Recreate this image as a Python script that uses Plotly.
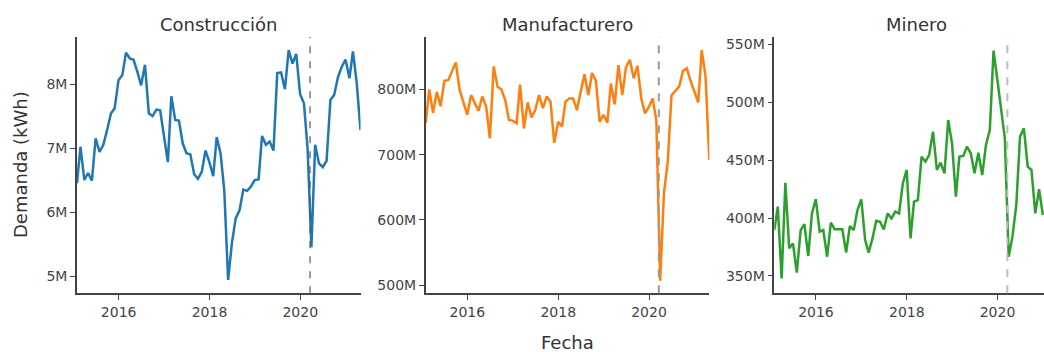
import pandas as pd
import plotly.graph_objects as go

# Monthly electricity demand by sector (kWh), month-end dates
fechas = pd.date_range("2015-02-01", periods=76, freq="MS") - pd.Timedelta(days=1)

construccion_m = [
    6.45, 7.02, 6.50, 6.61, 6.49, 7.15, 6.94, 7.05, 7.28, 7.54, 7.62, 8.06,
    8.14, 8.49, 8.40, 8.38, 8.19, 7.98, 8.30, 7.54, 7.50, 7.60, 7.59, 7.18,
    6.78, 7.81, 7.44, 7.43, 7.07, 6.92, 6.90, 6.59, 6.52, 6.63, 6.96, 6.78,
    6.56, 7.17, 6.92, 6.34, 4.94, 5.51, 5.90, 6.03, 6.35, 6.33, 6.40, 6.50,
    6.51, 7.19, 7.05, 7.10, 6.96, 8.17, 8.18, 7.92, 8.53, 8.32, 8.47, 7.84,
    7.70, 7.00, 5.45, 7.05, 6.76, 6.70, 6.80, 7.75, 7.83, 8.11, 8.27, 8.38,
    8.09, 8.51, 8.01, 7.28,
]

manufacturero_m = [
    748, 800, 764, 796, 774, 813, 814, 827, 841, 799, 780, 761,
    791, 780, 767, 789, 774, 725, 835, 804, 800, 784, 753, 752,
    748, 807, 740, 780, 757, 768, 791, 771, 789, 781, 718, 750,
    743, 781, 786, 786, 768, 796, 823, 791, 825, 813, 750, 761,
    749, 809, 777, 837, 791, 834, 845, 817, 836, 786, 763, 773,
    786, 752, 507, 641, 689, 791, 797, 804, 828, 832, 813, 798,
    780, 860, 819, 692,
]

minero_m = [
    389.6, 409.8, 347.9, 430.5, 373.8, 378.1, 352.8, 389.6, 394.8, 367.2, 404.0, 416.4,
    388.2, 389.6, 366.6, 396.0, 390.2, 390.2, 390.2, 370.1, 393.1, 389.6, 406.9, 416.1,
    381.0, 370.1, 382.4, 397.7, 396.8, 390.2, 404.0, 399.7, 405.5, 404.0, 429.9, 441.5,
    382.4, 414.1, 415.5, 453.0, 448.7, 454.4, 474.6, 441.5, 447.8, 438.6, 484.6, 464.5,
    418.4, 453.0, 453.6, 461.6, 455.9, 438.6, 456.4, 437.1, 463.1, 476.0, 544.5, 519.2,
    493.3, 468.8, 366.6, 383.9, 411.2, 470.3, 477.4, 444.3, 441.5, 404.0, 424.8, 402.6,
]

sectores = ["Construcción", "Manufacturero", "Minero"]
colores = ["#1f77b4", "#ff7f0e", "#2ca02c"]
fecha_evento = "2020-03-20"

series = [
    [v * 1e6 for v in construccion_m],
    [v * 1e6 for v in manufacturero_m],
    [v * 1e6 for v in minero_m],
]

W, H = 1044, 352
x_dom = [[77 / W, 360.5 / W], [425.7 / W, 709.3 / W], [774.3 / W, 1.0]]
y_dom = [(H - 293.3) / H, (H - 37) / H]
x_rng = [
    ["2015-01-31", "2021-04-30"],
    ["2015-01-31", "2021-04-30"],
    ["2015-01-31", "2021-01-09"],
]
y_rng = [[4.73e6, 8.735e6], [487.7e6, 880e6], [335e6, 556.3e6]]
y_dtick = [1e6, 100e6, 50e6]
dash_style = [("#555555", 1.2, "7px,8px"), ("#9a9a9a", 2, "8px,8px"), ("#bdbdbd", 2, "8px,8px")]

font_family = "DejaVu Sans"
fig = go.Figure()

for k in range(3):
    sfx = "" if k == 0 else str(k + 1)
    n = len(series[k])
    fig.add_trace(go.Scatter(
        x=fechas[:n], y=series[k], mode="lines",
        line=dict(color=colores[k], width=2.5),
        xaxis="x" + sfx, yaxis="y" + sfx, showlegend=False,
    ))
    axis_common = dict(
        showline=True, linecolor="#444", linewidth=1.5,
        ticks="outside", ticklen=5, tickcolor="#444", tickwidth=1,
        showgrid=False, zeroline=False,
        tickfont=dict(family=font_family, size=14, color="#444"),
    )
    fig.update_layout({
        "xaxis" + sfx: dict(
            domain=x_dom[k], range=x_rng[k], anchor="y" + sfx,
            type="date", tick0="2016-01-01", dtick="M24", tickformat="%Y",
            **axis_common,
        ),
        "yaxis" + sfx: dict(
            domain=y_dom, range=y_rng[k], anchor="x" + sfx,
            dtick=y_dtick[k], tickformat="~s",
            **axis_common,
        ),
    })
    color, width, dash = dash_style[k]
    fig.add_shape(
        type="line", xref="x" + sfx, yref="y" + sfx + " domain",
        x0=fecha_evento, x1=fecha_evento, y0=0, y1=1,
        line=dict(color=color, width=width, dash=dash), layer="above",
    )

# Panel titles
title_x = [218.5, 567.5, 916]
for k in range(3):
    fig.add_annotation(
        text=sectores[k], xref="paper", yref="paper",
        x=title_x[k] / W, y=(H - 24) / H, xanchor="center", yanchor="middle",
        showarrow=False, font=dict(family=font_family, size=18, color="#333"),
    )

# Shared axis titles
fig.add_annotation(
    text="Fecha", xref="paper", yref="paper", x=567.7 / W, y=(H - 342) / H,
    xanchor="center", yanchor="middle", showarrow=False,
    font=dict(family=font_family, size=18, color="#333"),
)
fig.add_annotation(
    text="Demanda (kWh)", xref="paper", yref="paper", x=20 / W, y=(H - 165) / H,
    xanchor="center", yanchor="middle", textangle=-90, showarrow=False,
    font=dict(family=font_family, size=18, color="#333"),
)

fig.update_layout(
    width=W, height=H,
    margin=dict(l=0, r=0, t=0, b=0),
    paper_bgcolor="white", plot_bgcolor="white",
    font=dict(family=font_family),
)

fig.write_html("out.html")
